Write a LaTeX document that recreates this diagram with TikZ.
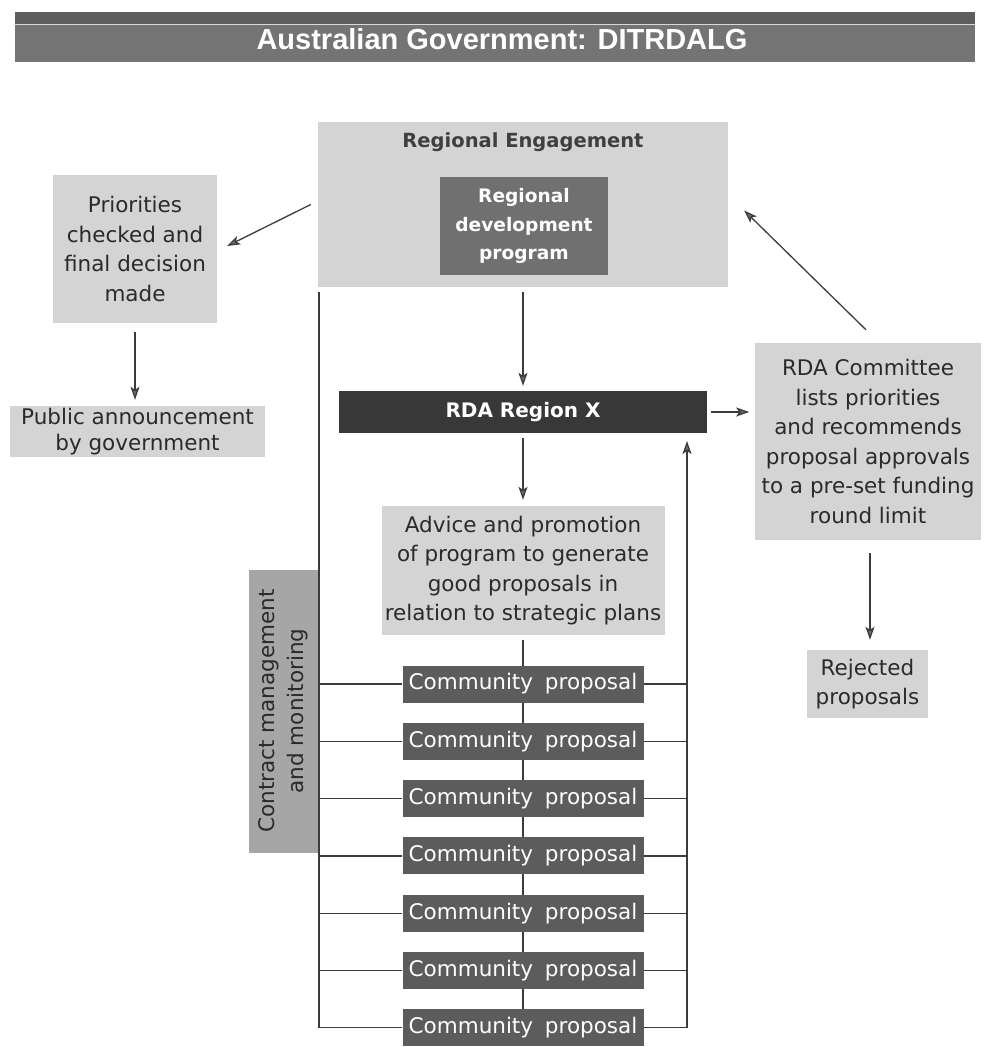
\documentclass[tikz,border=0pt]{standalone}
\usepackage{fontspec}
\setmainfont{DejaVu Sans}
\newfontfamily\titlefont{Liberation Sans}
\usetikzlibrary{arrows.meta,backgrounds,calc}
\definecolor{lightbox}{HTML}{D4D4D4}
\definecolor{midbox}{HTML}{A6A6A6}
\definecolor{darkbox}{HTML}{5C5C5C}
\definecolor{rdabox}{HTML}{383838}
\definecolor{rdpbox}{HTML}{707070}
\definecolor{titletop}{HTML}{5E5E5E}
\definecolor{titlebot}{HTML}{747474}
\definecolor{linec}{HTML}{3C3C3C}
\definecolor{textc}{HTML}{2A2A2A}
\tikzset{
  bodyfont/.style={font=\fontsize{21.5}{29.5}\selectfont},
  lbox/.style={fill=lightbox, draw=none, inner sep=0pt, align=center, text=textc, bodyfont},
  cpbox/.style={fill=darkbox, draw=none, inner sep=0pt, text=white, minimum width=241pt, minimum height=37pt, bodyfont},
  conn/.style={draw=linec, line width=1.3pt},
  arr/.style={conn, -{Stealth[length=13pt,width=9pt,inset=3pt,fill=linec!75]}},
}
\begin{document}
\begin{tikzpicture}[x=1pt,y=-1pt]
\useasboundingbox (0,0) rectangle (983,1047);
% title bar
\fill[titlebot] (15,12) rectangle (975,62);
\fill[titletop] (15,12) rectangle (975,24);
\draw[white!85!black, line width=0.8pt] (15,24.5) -- (975,24.5);
\node[text=white, font=\titlefont\bfseries\fontsize{29}{31}\selectfont] (title) at (502,39) {Australian Government: DITRDALG};
% regional engagement
\node[lbox, minimum width=410pt, minimum height=165pt] (re) at (523,204.5) {};
\node[text=textc!90, font=\bfseries\fontsize{19.5}{24}\selectfont] (retitle) at (523,142) {Regional Engagement};
\node[fill=rdpbox, text=white, inner sep=0pt, align=center, minimum width=168pt, minimum height=98pt, font=\bfseries\fontsize{18.6}{28.5}\selectfont] (rdp) at (524,226) {Regional\\development\\program};
% left column
\node[lbox, minimum width=164pt, minimum height=148pt] (prio) at (135,249) {Priorities\\checked and\\final decision\\made};
\node[lbox, minimum width=255pt, minimum height=51pt, font=\fontsize{21.5}{26}\selectfont] (pub) at (137.5,431.5) {Public announcement\\by government};
% RDA region
\node[fill=rdabox, text=white, inner sep=0pt, minimum width=368pt, minimum height=42pt, font=\bfseries\fontsize{20}{24}\selectfont] (rda) at (523,412) {RDA Region X};
\node[lbox, minimum width=283pt, minimum height=129pt] (advice) at (523,570.5) {Advice and promotion\\of program to generate\\good proposals in\\relation to strategic plans};
% committee
\node[lbox, minimum width=226pt, minimum height=197pt] (comm) at (868,441.5) {RDA Committee\\lists priorities\\and recommends\\proposal approvals\\to a pre-set funding\\round limit};
\node[lbox, minimum width=121pt, minimum height=68pt] (rej) at (867.5,684) {Rejected\\proposals};
% contract management
\node[fill=midbox, text=textc, inner sep=0pt, align=center, rotate=90, minimum width=283pt, minimum height=69pt, bodyfont] (contract) at (283.5,711) {Contract management\\and monitoring};
% community proposals
\foreach \i/\y in {1/684,2/741.3,3/798.6,4/855.9,5/913.2,6/970.5,7/1027.8}{
  \node[cpbox] (cp\i) at (523,\y) {Community\hspace{5pt} proposal};
}
\coordinate (ltop) at (319,292);
\coordinate (rtop) at (687,441);
\begin{scope}[on background layer]
  \draw[conn] ($(advice.south)+(0,5)$) -- (cp7.center);
\end{scope}
% connectors
\draw[arr] ($(re.west)+(-7,0)$) -- ($(prio.east)+(10,-3)$);
\draw[arr] ($(prio.south)+(0,9)$) -- ($(pub.north)+(-2.5,-6)$);
\draw[arr] ($(re.south)+(0,5)$) -- ($(rda.north)+(0,-5)$);
\draw[arr] ($(rda.east)+(4,0)$) -- ($(comm.west -| rda.east)+(42,-29.5)$);
\draw[arr] ($(comm.north)+(-2,-13)$) -- ($(re.east)+(16,6)$);
\draw[arr] ($(comm.south)+(2,13)$) -- ($(rej.north)+(2.5,-10)$);
\draw[arr] ($(rda.south)+(0,5)$) -- ($(advice.north)+(0,-6)$);
\draw[conn] (ltop) |- (cp7.west);
\draw[arr] (cp7.east) -| (rtop);
\foreach \i in {1,...,6}{
  \draw[conn] (cp\i.west) -- (cp\i.west -| ltop);
  \draw[conn] (cp\i.east) -- (cp\i.east -| rtop);
}
\end{tikzpicture}
\end{document}
